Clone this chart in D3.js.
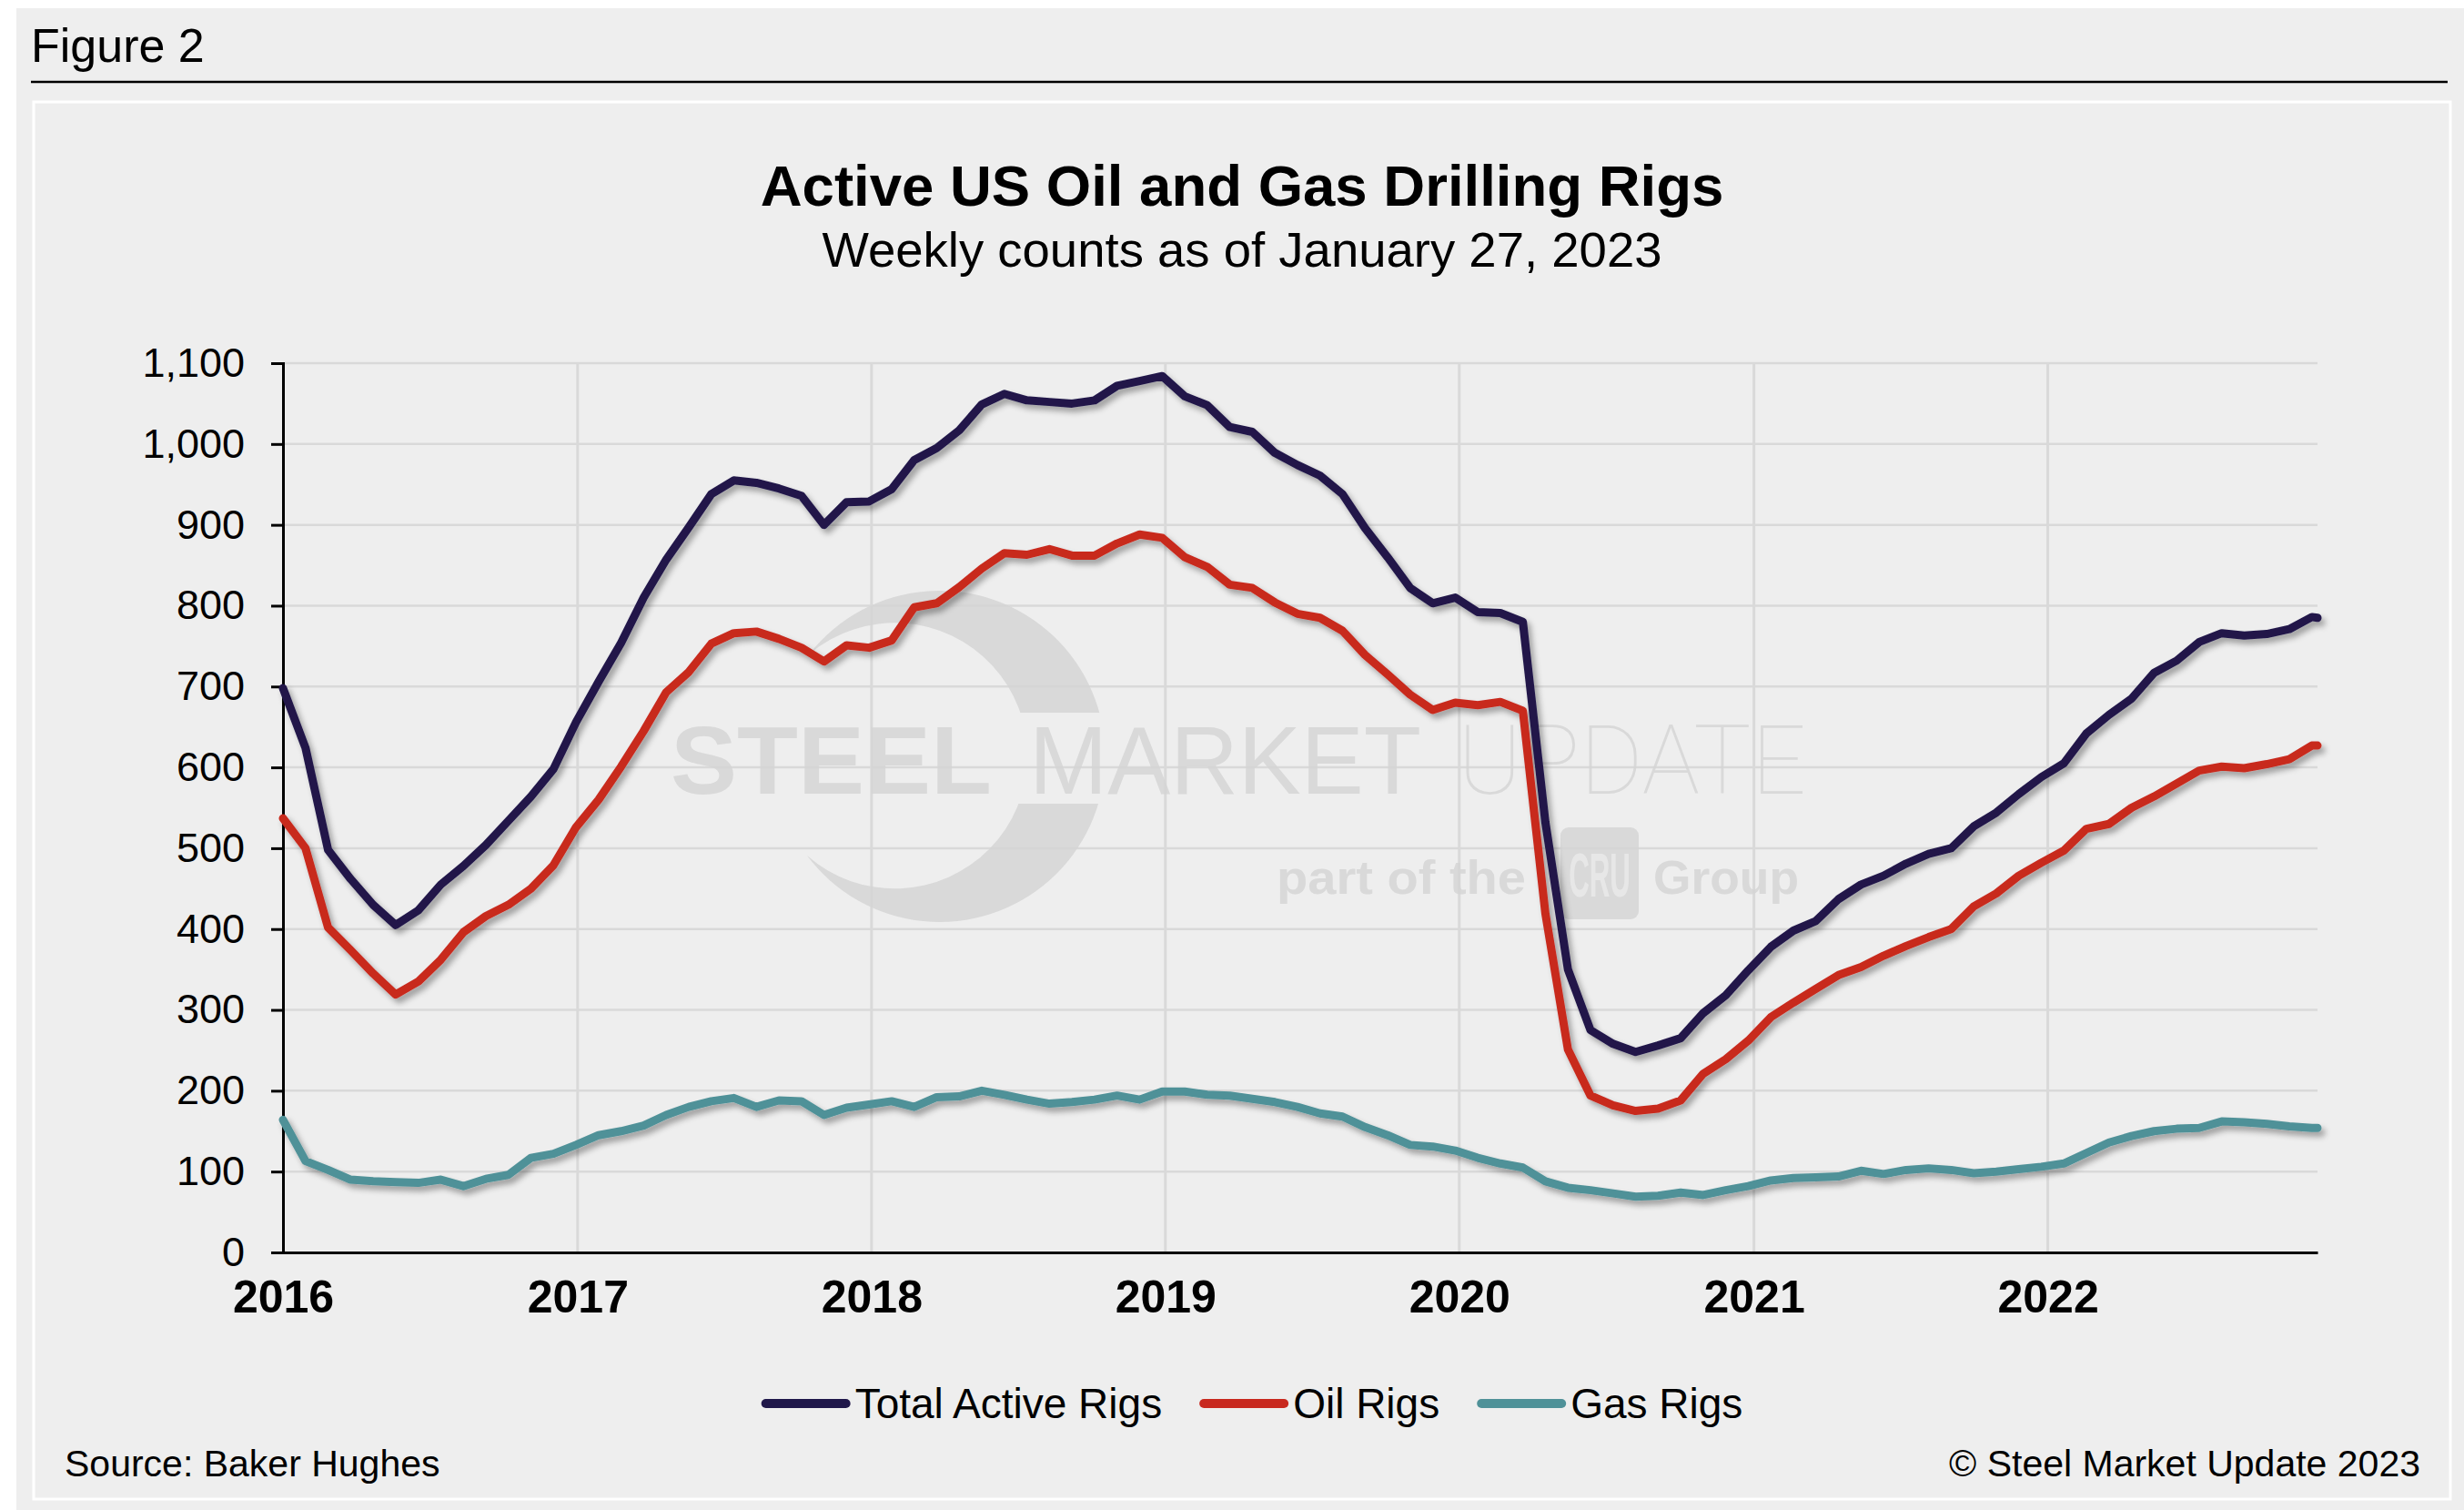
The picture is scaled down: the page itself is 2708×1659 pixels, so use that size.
<!DOCTYPE html>
<html><head><meta charset="utf-8">
<script src="https://cdn.jsdelivr.net/npm/d3@7"></script>
<style>html,body{margin:0;padding:0;background:#fff;}svg{display:block;}</style>
</head><body>
<script>
// ---------- data (every 4 weeks) ----------
const dates = [
"2016-01-01","2016-01-29","2016-02-26","2016-03-25","2016-04-22","2016-05-20","2016-06-17","2016-07-15","2016-08-12","2016-09-09","2016-10-07","2016-11-04","2016-12-02","2016-12-30",
"2017-01-27","2017-02-24","2017-03-24","2017-04-21","2017-05-19","2017-06-16","2017-07-14","2017-08-11","2017-09-08","2017-10-06","2017-11-03","2017-12-01","2017-12-29",
"2018-01-26","2018-02-23","2018-03-23","2018-04-20","2018-05-18","2018-06-15","2018-07-13","2018-08-10","2018-09-07","2018-10-05","2018-11-02","2018-11-30","2018-12-28",
"2019-01-25","2019-02-22","2019-03-22","2019-04-19","2019-05-17","2019-06-14","2019-07-12","2019-08-09","2019-09-06","2019-10-04","2019-11-01","2019-11-29","2019-12-27",
"2020-01-24","2020-02-21","2020-03-20","2020-04-17","2020-05-15","2020-06-12","2020-07-10","2020-08-07","2020-09-04","2020-10-02","2020-10-30","2020-11-27","2020-12-25",
"2021-01-22","2021-02-19","2021-03-19","2021-04-16","2021-05-14","2021-06-11","2021-07-09","2021-08-06","2021-09-03","2021-10-01","2021-10-29","2021-11-26","2021-12-24",
"2022-01-21","2022-02-18","2022-03-18","2022-04-15","2022-05-13","2022-06-10","2022-07-08","2022-08-05","2022-09-02","2022-09-30","2022-10-28","2022-11-25","2022-12-02"];

const totalRigs = [
698,624,498,462,430,405,423,455,478,504,534,564,598,656,
706,754,810,857,897,938,955,952,945,936,900,928,929,
944,980,995,1017,1049,1062,1054,1052,1050,1054,1072,1078,1084,
1059,1048,1021,1015,989,974,961,938,896,860,822,803,810,
792,791,780,532,350,275,258,248,256,265,296,318,349,
378,398,410,437,455,466,481,493,500,527,544,567,588,
605,642,665,685,717,732,755,766,763,765,771,786,785];

const oilRigs = [
537,500,402,374,345,319,335,362,396,416,430,450,479,526,
560,601,645,693,718,753,766,768,759,748,731,751,748,
757,798,803,823,846,865,863,870,862,862,877,888,884,
860,848,826,822,804,790,785,769,739,715,690,671,680,
677,681,670,419,251,194,182,175,178,188,221,239,262,
291,309,326,343,353,367,379,390,400,428,444,466,482,
497,524,530,550,564,580,596,601,599,604,610,627,627];

const gasRigs = [
164,113,102,90,88,87,86,90,82,91,96,117,122,133,
145,150,157,170,180,187,191,180,188,187,170,179,183,
187,180,192,193,200,195,189,184,186,189,194,189,199,
199,195,194,190,186,180,172,168,155,145,133,131,126,
117,110,105,88,80,77,73,69,70,74,71,77,82,
89,92,93,94,101,97,102,104,102,98,100,103,106,
110,123,136,144,150,153,154,162,161,159,156,154,154];

const yTickValues = [0,100,200,300,400,500,600,700,800,900,1000,1100];
const xTickLabels = ["2016","2017","2018","2019","2020","2021","2022"];
const seriesNames = ["Total Active Rigs","Oil Rigs","Gas Rigs"];
const seriesColors = ["#20184a","#c8291f","#4f9198"];
const seriesValues = [totalRigs, oilRigs, gasRigs];

const titleText = "Active US Oil and Gas Drilling Rigs";
const subtitleText = "Weekly counts as of January 27, 2023";
const figureLabel = "Figure 2";
const sourceText = "Source: Baker Hughes";
const copyrightText = "\u00A9 Steel Market Update 2023";

// ---------- layout ----------
const W = 2708, H = 1659;
const FONT = "'Liberation Sans', Arial, Helvetica, sans-serif";
const plot = {left: 311, right: 2547, top: 399, bottom: 1376};

const svg = d3.select("body").append("svg").attr("width", W).attr("height", H)
  .style("font-family", FONT);

const defs = svg.append("defs");
const sh = defs.append("filter").attr("id","shadow").attr("x","-5%").attr("y","-5%").attr("width","110%").attr("height","115%");
sh.append("feDropShadow").attr("dx",4).attr("dy",5).attr("stdDeviation",3)
  .attr("flood-color","#000").attr("flood-opacity",0.33);

// backgrounds
svg.append("rect").attr("x",18).attr("y",9).attr("width",W-18).attr("height",H-9).attr("fill","#eeeeee");
svg.append("text").attr("x",34).attr("y",68).attr("font-size",52).attr("fill","#000").text(figureLabel);
svg.append("line").attr("x1",34).attr("x2",2690).attr("y1",90).attr("y2",90).attr("stroke","#000").attr("stroke-width",2.5);
svg.append("rect").attr("x",37).attr("y",112).attr("width",2656).attr("height",1535)
  .attr("fill","#eeeeee").attr("stroke","#ffffff").attr("stroke-width",3);

// titles
svg.append("text").attr("x",1365).attr("y",226).attr("text-anchor","middle")
  .attr("font-size",63.5).attr("font-weight","bold").attr("fill","#000").text(titleText);
svg.append("text").attr("x",1365).attr("y",293).attr("text-anchor","middle")
  .attr("font-size",54.5).attr("fill","#000").text(subtitleText);

// scales
const parse = d3.utcParse("%Y-%m-%d");
const dateObjs = dates.map(parse);
const x = d3.scaleUtc().domain([dateObjs[0], dateObjs[dateObjs.length-1]]).range([plot.left, plot.right]);
const y = d3.scaleLinear().domain([0,1100]).range([plot.bottom, plot.top]);
const yearTicks = xTickLabels.map(s => parse(s + "-01-01"));

// gridlines
const grid = svg.append("g");
grid.selectAll("line.h").data(yTickValues.filter(v => v > 0)).join("line")
  .attr("x1",plot.left).attr("x2",plot.right)
  .attr("y1",d=>y(d)).attr("y2",d=>y(d))
  .attr("stroke","#d9d9d9").attr("stroke-width",2.5);
grid.selectAll("line.v").data(yearTicks.slice(1)).join("line")
  .attr("x1",d=>x(d)).attr("x2",d=>x(d))
  .attr("y1",plot.top).attr("y2",plot.bottom)
  .attr("stroke","#d9d9d9").attr("stroke-width",3);

// watermark
const wm = svg.append("g").attr("opacity",0.85);
const WMC = "#d5d5d5";
const mask = defs.append("mask").attr("id","wmmask");
mask.append("rect").attr("x",0).attr("y",0).attr("width",W).attr("height",H).attr("fill","#fff");
mask.append("rect").attr("x",1060).attr("y",783).attr("width",300).attr("height",100).attr("fill","#000");
const P1 = [890,718], P2 = [887,940];
wm.append("path")
  .attr("d",`M${P1[0]},${P1[1]} A182,182 0 1 1 ${P2[0]},${P2[1]} A146,146 0 1 0 ${P1[0]},${P1[1]} Z`)
  .attr("fill",WMC).attr("mask","url(#wmmask)");
wm.append("text").attr("x",737).attr("y",872).attr("font-size",106).attr("font-weight","bold")
  .attr("textLength",353).attr("lengthAdjust","spacingAndGlyphs").attr("fill",WMC).text("STEEL");
wm.append("text").attr("x",1131).attr("y",872).attr("font-size",106)
  .attr("textLength",431).attr("lengthAdjust","spacingAndGlyphs").attr("fill",WMC).text("MARKET");
wm.append("text").attr("x",1602).attr("y",872).attr("font-size",106).attr("font-weight",100)
  .style("font-family","Roboto, 'Noto Sans', sans-serif")
  .attr("textLength",383).attr("lengthAdjust","spacingAndGlyphs").attr("fill",WMC).text("UPDATE");
wm.append("text").attr("x",1403).attr("y",982).attr("font-size",52).attr("font-weight","bold")
  .attr("textLength",274).attr("lengthAdjust","spacingAndGlyphs").attr("fill",WMC).text("part of the");
wm.append("rect").attr("x",1715).attr("y",909).attr("width",86).attr("height",101).attr("rx",9).attr("fill",WMC);
wm.append("text").attr("transform","translate(1758,985) scale(0.46,1)").attr("text-anchor","middle")
  .attr("font-size",68).attr("font-weight","bold").attr("fill","#e6e6e6").text("CRU");
wm.append("text").attr("x",1817).attr("y",982).attr("font-size",52).attr("font-weight","bold")
  .attr("textLength",160).attr("lengthAdjust","spacingAndGlyphs").attr("fill",WMC).text("Group");

// axes
const yAxis = svg.append("g").attr("transform",`translate(${plot.left},0)`)
  .call(d3.axisLeft(y).tickValues(yTickValues).tickSize(13).tickPadding(29).tickFormat(d3.format(",")));
yAxis.select(".domain").attr("stroke","#000").attr("stroke-width",3);
yAxis.selectAll(".tick line").attr("stroke","#000").attr("stroke-width",3);
yAxis.selectAll(".tick text").attr("font-size",45).attr("fill","#000").style("font-family",FONT);

const xAxis = svg.append("g").attr("transform",`translate(0,${plot.bottom})`)
  .call(d3.axisBottom(x).tickValues(yearTicks).tickSize(0).tickPadding(30)
    .tickFormat((d,i)=>xTickLabels[i]));
xAxis.select(".domain").attr("stroke","#000").attr("stroke-width",3);
xAxis.selectAll(".tick text").attr("font-size",50).attr("font-weight","bold").attr("fill","#000")
  .style("font-family",FONT).attr("dy","0.71em");

// series lines
const line = d3.line().x((d,i)=>x(dateObjs[i])).y(d=>y(d)).curve(d3.curveLinear);
const lines = svg.append("g").attr("filter","url(#shadow)");
[2,1,0].forEach(s => {
  lines.append("path").datum(seriesValues[s]).attr("d",line)
    .attr("fill","none").attr("stroke",seriesColors[s]).attr("stroke-width",9)
    .attr("stroke-linejoin","round").attr("stroke-linecap","round");
});

// legend
const lg = svg.append("g");
let cx = 0;
seriesNames.forEach((name,i) => {
  const g = lg.append("g");
  g.append("line").attr("x1",cx+5).attr("x2",cx+93).attr("y1",1542).attr("y2",1542)
    .attr("stroke",seriesColors[i]).attr("stroke-width",10).attr("stroke-linecap","round");
  const t = g.append("text").attr("x",cx+103).attr("y",1558).attr("font-size",46).attr("fill","#000").text(name);
  const w = t.node().getComputedTextLength();
  cx += 103 + w + 41;
});
const legendW = cx - 41;
lg.attr("transform",`translate(${1376 - legendW/2},0)`);

// footer
svg.append("text").attr("x",71).attr("y",1622).attr("font-size",41).attr("fill","#000").text(sourceText);
svg.append("text").attr("x",2660).attr("y",1622).attr("text-anchor","end").attr("font-size",41).attr("fill","#000").text(copyrightText);
</script>
</body></html>
